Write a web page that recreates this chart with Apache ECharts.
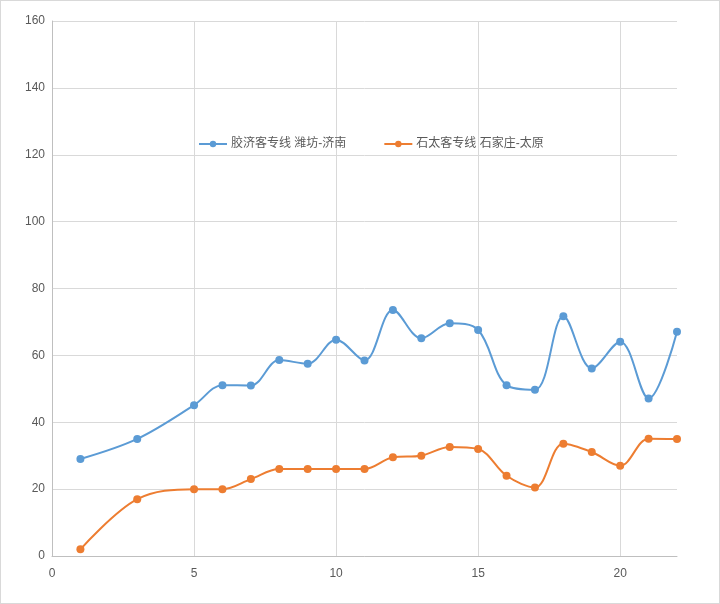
<!DOCTYPE html>
<html>
<head>
<meta charset="utf-8">
<script src="https://cdn.jsdelivr.net/npm/echarts@6/dist/echarts.min.js"></script>
<style>
html,body{margin:0;padding:0;background:#fff;}
#c{width:720px;height:604px;box-sizing:border-box;border:1px solid #d9d9d9;}
</style>
</head>
<body>
<div id="c"></div>
<script>
var seriesNames = ['胶济客专线 潍坊-济南', '石太客专线 石家庄-太原'];
var xValues = [1, 3, 5, 6, 7, 8, 9, 10, 11, 12, 13, 14, 15, 16, 17, 18, 19, 20, 21, 22];
var jiaojiValues = [29.0, 35.0, 45.1, 51.1, 51.0, 58.6, 57.5, 64.7, 58.5, 73.6, 65.1, 69.6, 67.6, 51.1, 49.7, 71.7, 56.1, 64.1, 47.1, 67.1];
var shitaiValues = [2.0, 17.0, 20.0, 20.0, 23.0, 26.0, 26.0, 26.0, 26.0, 29.5, 30.0, 32.6, 32.0, 24.0, 20.5, 33.6, 31.1, 27.0, 35.1, 35.0];

function pairs(xs, ys) { return xs.map(function (x, i) { return [x, ys[i]]; }); }

var chart = echarts.init(document.getElementById('c'));
var font = '"Liberation Sans", "Noto Sans CJK SC", sans-serif';
chart.setOption({
  animation: false,
  color: ['#5b9bd5', '#ed7d31'],
  textStyle: { fontFamily: font },
  grid: { left: 51, right: 42, top: 20, bottom: 47 },
  legend: {
    left: 192, top: 132,
    itemGap: 37, itemWidth: 28, itemHeight: 8,
    textStyle: { color: '#595959', fontSize: 12, fontFamily: font, padding: [0, 0, 0, -1] },
    data: seriesNames
  },
  xAxis: {
    type: 'value', min: 0, max: 22, interval: 5,
    axisLine: { show: true, lineStyle: { color: '#bfbfbf', width: 1 } },
    axisTick: { show: false },
    axisLabel: { color: '#595959', fontSize: 12, margin: 12, showMaxLabel: false,
      formatter: function (v) { return v % 5 === 0 ? String(v) : ''; } },
    splitLine: { show: true, showMaxLine: false, lineStyle: { color: '#d9d9d9', width: 1 } }
  },
  yAxis: {
    type: 'value', min: 0, max: 160, interval: 20,
    axisLine: { show: true, lineStyle: { color: '#bfbfbf', width: 1 } },
    axisTick: { show: false },
    axisLabel: { color: '#595959', fontSize: 12, margin: 7 },
    splitLine: { show: true, lineStyle: { color: '#d9d9d9', width: 1 } }
  },
  series: [
    { name: seriesNames[0], type: 'line', smooth: 0.35, symbol: 'circle', symbolSize: 8,
      lineStyle: { width: 2 }, data: pairs(xValues, jiaojiValues) },
    { name: seriesNames[1], type: 'line', smooth: 0.35, symbol: 'circle', symbolSize: 8,
      lineStyle: { width: 2 }, data: pairs(xValues, shitaiValues) }
  ]
});
</script>
</body>
</html>
